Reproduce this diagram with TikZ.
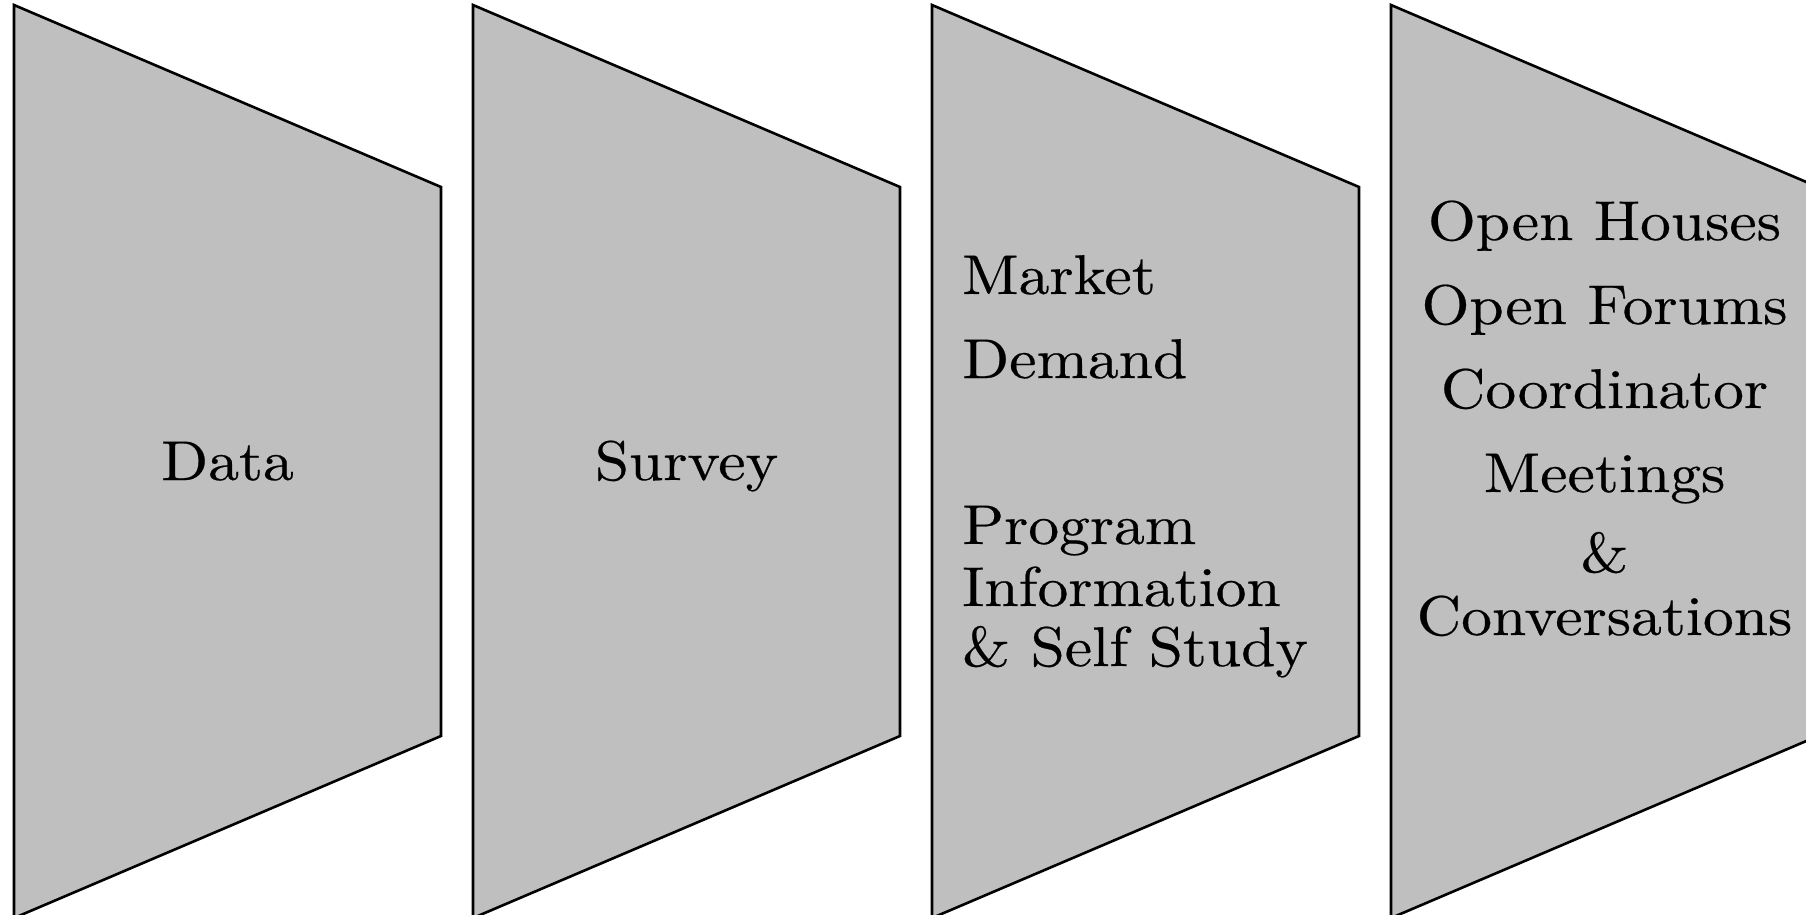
\documentclass[tikz,border=0pt]{standalone}
\usepackage{fontspec}
\setmainfont{lmroman10-regular.otf}[FakeStretch=1.1,FakeBold=0.4]
\begin{document}
\begin{tikzpicture}[x=1pt,y=-1pt,
  panel/.style={draw=black, fill=black!25, line width=2.6pt, line join=miter},
  lbl/.style={font=\fontsize{56}{62}\selectfont, inner sep=0pt, anchor=base},
  lblw/.style={lbl, anchor=base west}]
\useasboundingbox (0,0) rectangle (1806,915);
\clip (0,0) rectangle (1806,915);
\foreach \x in {14,473,932,1391}
  \draw[panel] (\x,5) -- (\x+427,187) -- (\x+427,736) -- (\x,918) -- cycle;
% panel 1 and 2
\node[lbl] (data) at (227.5,480) {Data};
\node[lbl] (survey) at (686.5,480) {Survey};
% panel 3
\node[lblw] (market) at (962,294) {Market};
\node[lblw] (demand) at (962,378) {Demand};
\node[lblw] (program) at (962,544) {Program};
\node[lblw] (information) at (962,606) {Information};
\node[lblw] (selfstudy) at (962,666) {\& Self Study};
% panel 4
\node[lbl] (openhouses) at (1604.5,240) {Open Houses};
\node[lbl] (openforums) at (1604.5,324) {Open Forums};
\node[lbl] (coordinator) at (1604.5,408) {Coordinator};
\node[lbl] (meetings) at (1604.5,492) {Meetings};
\node[lbl] (amp) at (1604.5,572) {\&};
\node[lbl] (conversations) at (1604.5,635) {Conversations};
\end{tikzpicture}
\end{document}
